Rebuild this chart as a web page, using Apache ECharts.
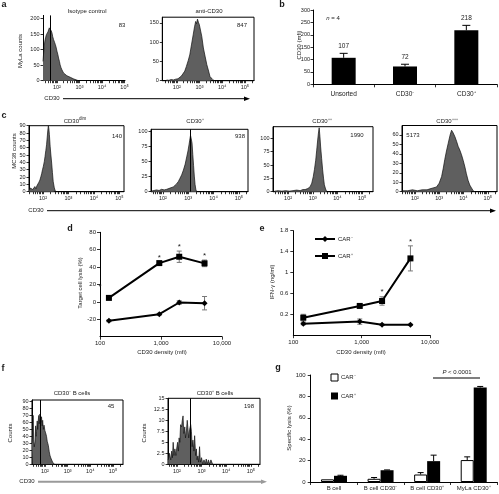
<!DOCTYPE html>
<html><head><meta charset="utf-8">
<script src="https://cdn.jsdelivr.net/npm/echarts@6/dist/echarts.min.js"></script>
<style>html,body{margin:0;padding:0;background:#fff}#c{width:499px;height:494px}</style>
</head><body><div id="c"></div>
<script>
const FONT = "'Liberation Sans', Arial, Helvetica, sans-serif";
const TXT = '#1a1a1a';

// ---------- DATA ----------
// Panel a : MyLa histograms, x in decades (log10 CD30), y counts
const aIsotypeHist = [[1.38,62],[1.42,100],[1.46,127],[1.50,140],[1.53,148],[1.56,153],[1.60,157],[1.63,160],[1.66,170],[1.70,175],[1.72,168],[1.75,160],[1.78,153],[1.81,142],[1.85,132],[1.89,124],[1.93,116],[1.97,105],[2.00,95],[2.04,84],[2.07,73],[2.11,62],[2.14,51],[2.18,42],[2.22,35],[2.26,29],[2.29,25],[2.36,20],[2.44,16],[2.52,13],[2.59,11],[2.66,8],[2.73,6],[2.80,4],[2.88,2],[2.95,0]];
const aAntiHist = [[1.55,2],[1.65,1],[1.75,3],[1.85,2],[1.95,4],[2.05,5],[2.12,8],[2.20,12],[2.28,16],[2.35,25],[2.42,37],[2.50,52],[2.57,67],[2.65,95],[2.72,119],[2.78,140],[2.83,154],[2.87,148],[2.91,160],[2.95,152],[2.99,146],[3.03,141],[3.10,115],[3.17,85],[3.25,62],[3.32,42],[3.40,25],[3.46,11],[3.52,6],[3.58,3],[3.65,0]];
const aIsotypeGate = 1.72;
const aTitles = ['Isotype control', 'anti-CD30'];
const aMfi = ['83', '847'];
const aIsoYTicks = [0, 50, 100, 150, 200];
const aAntiYTicks = [0, 50, 100, 150];

// Panel b
const bCategories = ['Unsorted', 'CD30⁻', 'CD30⁺'];
const bValues = [107, 72, 218];
const bErrors = [18, 9, 20];
const bLabels = ['107', '72', '218'];

// Panel c : MC38 histograms
const cDimHist = [[1.46,2],[1.50,5],[1.53,3],[1.56,6],[1.60,3],[1.64,5],[1.68,7],[1.72,4],[1.76,8],[1.80,9],[1.84,13],[1.88,16],[1.92,21],[1.95,25],[1.98,30],[2.01,34],[2.05,41],[2.08,48],[2.11,56],[2.14,64],[2.17,76],[2.19,84],[2.21,90],[2.23,86],[2.25,78],[2.28,62],[2.31,50],[2.34,39],[2.37,26],[2.40,14],[2.44,6],[2.48,1],[2.52,0]];
const cPlusHist = [[1.55,1],[1.65,2],[1.75,3],[1.85,2],[1.95,4],[2.05,3],[2.15,4],[2.22,5],[2.28,6],[2.35,7],[2.41,8],[2.48,10],[2.54,13],[2.61,17],[2.67,22],[2.74,28],[2.81,36],[2.88,46],[2.94,58],[2.99,68],[3.03,78],[3.06,86],[3.09,94],[3.12,88],[3.15,81],[3.18,62],[3.21,44],[3.24,26],[3.27,12],[3.30,4],[3.33,0]];
const cPlusPlusHist = [[1.45,1],[1.60,2],[1.75,1],[1.90,2],[2.05,1],[2.20,2],[2.35,3],[2.49,2],[2.60,4],[2.69,4],[2.80,6],[2.89,9],[2.96,16],[3.02,28],[3.07,42],[3.12,59],[3.16,78],[3.20,97],[3.23,110],[3.26,120],[3.29,104],[3.32,84],[3.36,62],[3.40,41],[3.44,24],[3.47,13],[3.52,5],[3.57,0]];
const cTriplePlusHist = [[1.50,1],[1.70,1],[1.90,2],[2.10,1],[2.30,2],[2.50,2],[2.62,3],[2.75,4],[2.89,5],[3.00,9],[3.10,16],[3.17,25],[3.23,34],[3.30,43],[3.37,51],[3.45,60],[3.51,65],[3.58,62],[3.65,58],[3.72,53],[3.78,48],[3.85,44],[3.92,39],[3.99,33],[4.06,26],[4.12,19],[4.19,12],[4.26,7],[4.33,4],[4.40,1],[4.47,0]];
const cPlusGate = 3.07;
const cTitles = ['dim', '⁺', '⁺⁺', '⁺⁺⁺'];
const cMfi = ['140', '938', '1990', '5173'];
const cDimYTicks = [0,10,20,30,40,50,60,70,80,90];
const cPlusYTicks = [0,25,50,75,100];
const cTripleYTicks = [0,10,20,30,40,50,60];

// Panel d : target cell lysis
const dDensity = [140, 938, 1990, 5173];
const dCarPos = [4.6, 44.6, 51.9, 44.3];
const dCarPosErr = [1, 1, 6.5, 3.8];
const dCarNeg = [-21.8, -14.1, -0.7, -1.5];
const dCarNegErr = [1, 1, 2, 7.7];
const dSignif = ['', '*', '*', '*'];

// Panel e : IFN-gamma
const eDensity = [140, 938, 1990, 5173];
const eCarNeg = [0.02, 0.06, 0.0, 0.0];
const eCarNegErr = [0.02, 0.05, 0.01, 0.01];
const eCarPos = [0.135, 0.36, 0.455, 1.27];
const eCarPosErr = [0.065, 0.02, 0.08, 0.24];
const eSignif = ['', '', '*', '*'];
const eYTicks = [0.2, 0.6, 1, 1.4, 1.8];

// Panel f : B cell histograms
const fNegHist = [[1.43,30],[1.46,45],[1.48,70],[1.50,35],[1.53,25],[1.56,32],[1.59,55],[1.61,40],[1.63,47],[1.66,62],[1.68,50],[1.70,61],[1.73,70],[1.75,58],[1.78,72],[1.80,66],[1.83,60],[1.85,68],[1.88,55],[1.90,63],[1.93,50],[1.96,56],[2.00,48],[2.03,45],[2.07,40],[2.10,33],[2.15,27],[2.19,18],[2.22,13],[2.26,9],[2.30,6],[2.34,3],[2.37,2],[2.42,0]];
const fPosHist = [[1.65,1],[1.70,2.5],[1.75,1],[1.79,3],[1.82,1.5],[1.85,5],[1.88,2],[1.92,3.5],[1.96,2],[1.99,3.5],[2.03,5],[2.06,3],[2.09,6],[2.12,5],[2.15,9],[2.19,8.5],[2.22,10],[2.25,11],[2.28,7],[2.32,8.5],[2.35,6],[2.39,7.8],[2.42,10],[2.45,9.7],[2.48,6],[2.52,8],[2.56,9],[2.59,7.5],[2.62,4],[2.65,5.5],[2.69,3],[2.72,6.5],[2.76,2],[2.79,3.5],[2.82,1],[2.85,1.9],[2.88,0.5],[2.92,4],[2.95,0.5],[3.00,1.5],[3.05,0],[3.10,1],[3.15,0],[3.19,1.2],[3.23,0],[3.28,1],[3.32,0],[3.38,1],[3.45,0]];
const fNegGate = 1.78;
const fPosGate = 2.56;
const fTitles = ['CD30⁻ B cells', 'CD30⁺ B cells'];
const fMfi = ['45', '198'];
const fNegYTicks = [0,10,20,30,40,50,60,70,80,90];
const fPosYTicks = [0,2.5,5,7.5,10,12.5,15];

// Panel g : specific lysis
const gCategories = ['B cell', 'B cell CD30⁻', 'B cell CD30⁺', 'MyLa CD30⁺'];
const gCarNeg = [2.5, 3, 7, 20.5];
const gCarNegErr = [0, 1.2, 1.8, 3];
const gCarPos = [5.8, 11, 19.5, 88.3];
const gCarPosErr = [0.5, 0.3, 5.6, 1];

const decadeLabels = [2, 3, 4, 5];
const SUP = {2: '²', 3: '³', 4: '⁴', 5: '⁵'};

// ---------- HELPERS ----------
function logTickPositions(min, max) {
  const out = [];
  for (let d = 1; d <= 5; d++) for (let k = 1; k <= 9; k++) {
    const v = d + Math.log10(k);
    if (v >= min - 1e-9 && v <= max + 1e-9) out.push(v);
  }
  return out;
}
const axLine = {show: true, onZero: false, lineStyle: {color: '#000', width: 1}};
const tickStyle = {color: '#000', width: 0.8};
function lbl(extra) { return Object.assign({fontSize: 5.5, color: TXT, fontFamily: FONT}, extra || {}); }

function grid(left, top, width, height, box) {
  return {left, top, width, height, containLabel: false, outerBoundsMode: 'none',
    show: !!box, borderColor: '#000', borderWidth: 1, backgroundColor: 'transparent'};
}
function histX(gi, min, max) {
  return {type: 'value', gridIndex: gi, min, max, axisLine: axLine, splitLine: {show: false},
    axisTick: {show: true, length: 2.5, customValues: logTickPositions(min, max), lineStyle: tickStyle},
    axisLabel: lbl({customValues: decadeLabels.filter(v => v >= min && v <= max),
      formatter: v => '10' + SUP[Math.round(v)], margin: 4})};
}
function histY(gi, max, ticks) {
  return {type: 'value', gridIndex: gi, min: 0, max, axisLine: axLine, splitLine: {show: false},
    axisTick: {show: true, length: 2.5, customValues: ticks, lineStyle: tickStyle},
    axisLabel: lbl({customValues: ticks, margin: 3.5})};
}
function hist(gi, data, gate) {
  const s = {type: 'line', xAxisIndex: gi, yAxisIndex: gi, data, symbol: 'none', showSymbol: false,
    lineStyle: {color: '#111', width: 0.7}, areaStyle: {color: '#5f5f5f', opacity: 1}, z: 2, silent: true};
  if (gate != null) s.markLine = {silent: true, symbol: 'none', label: {show: false}, animation: false,
    lineStyle: {color: '#000', width: 1, type: 'solid'}, data: [{xAxis: gate}]};
  return s;
}
function errorBars(cfg) {
  return {
    type: 'custom', xAxisIndex: cfg.axis, yAxisIndex: cfg.axis, silent: true, z: cfg.z || 2,
    data: cfg.xs.map((x, i) => [x, cfg.vals[i], cfg.errs[i]]),
    renderItem: function (params, api) {
      const i = params.dataIndex;
      const x = api.value(0), v = api.value(1), e = api.value(2);
      const pTop = api.coord([x, v + e]);
      const pBot = api.coord([x, cfg.both ? v - e : v]);
      const cx = pTop[0] + (cfg.dx || 0);
      const st = {stroke: cfg.color, lineWidth: 1};
      const ch = [];
      if (e > 0) {
        ch.push({type: 'line', shape: {x1: cx, y1: pTop[1], x2: cx, y2: pBot[1]}, style: st});
        ch.push({type: 'line', shape: {x1: cx - cfg.cap, y1: pTop[1], x2: cx + cfg.cap, y2: pTop[1]}, style: st});
        if (cfg.both) ch.push({type: 'line', shape: {x1: cx - cfg.cap, y1: pBot[1], x2: cx + cfg.cap, y2: pBot[1]}, style: st});
      }
      const mark = cfg.marks ? cfg.marks[i] : '';
      if (mark) ch.push({type: 'text', x: cx, y: pTop[1] - cfg.markGap,
        style: {text: mark, fill: TXT, font: cfg.markFont, align: 'center', verticalAlign: 'middle'}});
      return {type: 'group', children: ch};
    }
  };
}
function txt(x, y, text, o) {
  o = o || {};
  const size = o.size || 6;
  return {type: 'text', x, y, rotation: o.rot || 0, silent: true, z: 50,
    style: {text, fill: o.color || TXT, font: (o.weight || 'normal') + ' ' + size + 'px ' + FONT,
      align: o.align || 'center', verticalAlign: 'middle', textAlign: o.align || 'center', textVerticalAlign: 'middle'}};
}
function hline(x1, y, x2, color, w) {
  return {type: 'line', silent: true, shape: {x1, y1: y, x2, y2: y}, style: {stroke: color || '#000', lineWidth: w || 1}};
}
function arrowHead(x, y, color) {
  return {type: 'polygon', silent: true, shape: {points: [[x - 6, y - 2.2], [x, y], [x - 6, y + 2.2]]}, style: {fill: color || '#000'}};
}

// ---------- LAYOUT ----------
const grids = [
  grid(43, 15.4, 82, 65.3, false),      // 0 a1
  grid(162.3, 17.2, 91.7, 63.5, true),  // 1 a2
  grid(313, 10, 184, 74.3, false),      // 2 b
  grid(29, 125.7, 95, 66, true),        // 3 c1
  grid(151, 129.3, 97, 62.4, true),     // 4 c2
  grid(273, 126.7, 100, 65, true),      // 5 c3
  grid(402, 125.5, 95, 66.2, true),     // 6 c4
  grid(100, 232.3, 122, 104.4, false),  // 7 d
  grid(293.3, 230.7, 136.7, 104.5, false), // 8 e
  grid(32, 400, 91, 64.3, true),        // 9 f1
  grid(168, 398.3, 92, 66, true),       // 10 f2
  grid(310.7, 375, 186.3, 107, false)   // 11 g
];

const catTick = {show: true, length: 3, lineStyle: tickStyle};
const xAxes = [
  histX(0, 1.38, 5.02),
  histX(1, 1.36, 5.4),
  {type: 'category', gridIndex: 2, data: bCategories, axisLine: axLine, axisTick: catTick,
    axisLabel: lbl({fontSize: 6.5, margin: 6, interval: 0})},
  histX(3, 1.45, 5.18),
  histX(4, 1.53, 5.36),
  histX(5, 1.39, 5.44),
  histX(6, 1.47, 5.38),
  {type: 'log', logBase: 10, gridIndex: 7, min: 100, max: 10000, axisLine: axLine, splitLine: {show: false},
    axisTick: {show: true, length: 3, lineStyle: tickStyle},
    axisLabel: lbl({fontSize: 6, margin: 4, formatter: v => Number(v).toLocaleString('en-US')})},
  {type: 'log', logBase: 10, gridIndex: 8, min: 100, max: 10000, axisLine: axLine, splitLine: {show: false},
    axisTick: {show: true, length: 3, lineStyle: tickStyle},
    axisLabel: lbl({fontSize: 6, margin: 4, formatter: v => Number(v).toLocaleString('en-US')})},
  histX(9, 1.43, 5.44),
  histX(10, 1.64, 5.37),
  {type: 'category', gridIndex: 11, data: gCategories, axisLine: axLine, axisTick: catTick,
    axisLabel: lbl({fontSize: 6, margin: 3, interval: 0})}
];
const yAxes = [
  histY(0, 210, aIsoYTicks),
  histY(1, 165, aAntiYTicks),
  {type: 'value', gridIndex: 2, min: 0, max: 300, interval: 50, axisLine: axLine, splitLine: {show: false},
    axisTick: {show: true, length: 2.5, lineStyle: tickStyle}, axisLabel: lbl({fontSize: 5.5, margin: 3})},
  histY(3, 90, cDimYTicks),
  histY(4, 104, cPlusYTicks),
  histY(5, 122, cPlusYTicks),
  histY(6, 70, cTripleYTicks),
  {type: 'value', gridIndex: 7, min: -40, max: 80, interval: 20, axisLine: axLine, splitLine: {show: false},
    axisTick: {show: true, length: 3, lineStyle: tickStyle}, axisLabel: lbl({fontSize: 6, margin: 4, showMinLabel: false})},
  {type: 'value', gridIndex: 8, min: -0.2, max: 1.8, axisLine: axLine, splitLine: {show: false},
    axisTick: {show: true, length: 3, customValues: eYTicks, lineStyle: tickStyle},
    axisLabel: lbl({fontSize: 6, margin: 5, customValues: eYTicks})},
  histY(9, 92, fNegYTicks),
  histY(10, 15, fPosYTicks),
  {type: 'value', gridIndex: 11, min: 0, max: 100, interval: 20, axisLine: axLine, splitLine: {show: false},
    axisTick: {show: true, length: 3, lineStyle: tickStyle}, axisLabel: lbl({fontSize: 6, margin: 5})}
];

const series = [
  hist(0, aIsotypeHist, aIsotypeGate),
  hist(1, aAntiHist, null),
  {type: 'bar', xAxisIndex: 2, yAxisIndex: 2, data: bValues, barWidth: 24, itemStyle: {color: '#000'}, z: 2},
  errorBars({axis: 2, xs: bCategories, vals: bValues, errs: bErrors, both: false, color: '#000', cap: 4,
    marks: bLabels, markGap: 7, markFont: '6.5px ' + FONT, z: 3}),
  hist(3, cDimHist, null),
  hist(4, cPlusHist, cPlusGate),
  hist(5, cPlusPlusHist, null),
  hist(6, cTriplePlusHist, null),
  errorBars({axis: 7, xs: dDensity, vals: dCarPos, errs: dCarPosErr, both: true, color: '#777', cap: 2.5,
    marks: dSignif, markGap: 4.5, markFont: '8px ' + FONT, z: 1}),
  errorBars({axis: 7, xs: dDensity, vals: dCarNeg, errs: dCarNegErr, both: true, color: '#777', cap: 2.5, z: 1}),
  {type: 'line', xAxisIndex: 7, yAxisIndex: 7, data: dDensity.map((x, i) => [x, dCarPos[i]]),
    symbol: 'rect', symbolSize: 6, lineStyle: {color: '#000', width: 2}, itemStyle: {color: '#000'}, z: 3},
  {type: 'line', xAxisIndex: 7, yAxisIndex: 7, data: dDensity.map((x, i) => [x, dCarNeg[i]]),
    symbol: 'diamond', symbolSize: 6, lineStyle: {color: '#000', width: 2}, itemStyle: {color: '#000'}, z: 3},
  errorBars({axis: 8, xs: eDensity, vals: eCarPos, errs: eCarPosErr, both: true, color: '#777', cap: 2.5,
    marks: eSignif, markGap: 4.5, markFont: '8px ' + FONT, z: 1}),
  errorBars({axis: 8, xs: eDensity, vals: eCarNeg, errs: eCarNegErr, both: true, color: '#777', cap: 2.5, z: 1}),
  {type: 'line', xAxisIndex: 8, yAxisIndex: 8, data: eDensity.map((x, i) => [x, eCarNeg[i]]),
    symbol: 'diamond', symbolSize: 6, lineStyle: {color: '#000', width: 2}, itemStyle: {color: '#000'}, z: 3},
  {type: 'line', xAxisIndex: 8, yAxisIndex: 8, data: eDensity.map((x, i) => [x, eCarPos[i]]),
    symbol: 'rect', symbolSize: 6, lineStyle: {color: '#000', width: 2}, itemStyle: {color: '#000'}, z: 3},
  hist(9, fNegHist, fNegGate),
  hist(10, fPosHist, fPosGate),
  {type: 'bar', xAxisIndex: 11, yAxisIndex: 11, data: gCarNeg, barWidth: 13, barGap: '0%',
    itemStyle: {color: '#fff', borderColor: '#000', borderWidth: 1}, z: 2},
  {type: 'bar', xAxisIndex: 11, yAxisIndex: 11, data: gCarPos, barWidth: 13, barGap: '0%',
    itemStyle: {color: '#000'}, z: 2},
  errorBars({axis: 11, xs: gCategories, vals: gCarNeg, errs: gCarNegErr, both: false, color: '#000', cap: 3, dx: -6.5, z: 1}),
  errorBars({axis: 11, xs: gCategories, vals: gCarPos, errs: gCarPosErr, both: false, color: '#000', cap: 3, dx: 6.5, z: 1})
];

const ital = {i: {fontStyle: 'italic', fontSize: 6, fontFamily: FONT, fill: TXT}, n: {fontSize: 6, fontFamily: FONT, fill: TXT}};
const supRich = {a: {fontSize: 6, fontFamily: FONT, fill: TXT}, s: {fontSize: 4.5, fontFamily: FONT, fill: TXT, verticalAlign: 'top', padding: [0, 0, 4, 0]}};

const graphics = [
  // panel letters
  txt(4, 5, 'a', {size: 9, weight: 'bold'}),
  txt(282, 5, 'b', {size: 9, weight: 'bold'}),
  txt(4, 116, 'c', {size: 9, weight: 'bold'}),
  txt(70, 229, 'd', {size: 9, weight: 'bold'}),
  txt(262, 229, 'e', {size: 9, weight: 'bold'}),
  txt(3, 369, 'f', {size: 9, weight: 'bold'}),
  txt(278, 368, 'g', {size: 9, weight: 'bold'}),
  // panel a
  txt(87, 11, aTitles[0]), txt(209, 11, aTitles[1]),
  txt(122, 25, aMfi[0]), txt(242, 25, aMfi[1]),
  txt(20, 51, 'MyLa counts', {rot: Math.PI / 2}),
  txt(52, 98.7, 'CD30'),
  hline(63, 98.7, 245), arrowHead(250, 98.7),
  // panel b
  txt(299, 45, 'CD30 (mfi)', {rot: Math.PI / 2}),
  {type: 'text', x: 333, y: 18, silent: true, z: 50, style: {text: '{i|n}{n| = 4}', rich: ital, align: 'center', verticalAlign: 'middle'}},
  // panel c
  {type: 'text', x: 75, y: 121, silent: true, z: 50, style: {text: '{a|CD30}{s|' + cTitles[0] + '}', rich: supRich, align: 'center', verticalAlign: 'middle'}},
  txt(195, 121, 'CD30' + cTitles[1]), txt(322, 121, 'CD30' + cTitles[2]), txt(447, 121, 'CD30' + cTitles[3]),
  txt(117, 136, cMfi[0]), txt(240, 136, cMfi[1]), txt(357, 135, cMfi[2]), txt(413, 135, cMfi[3]),
  txt(14, 151, 'MC38 counts', {rot: Math.PI / 2}),
  txt(36, 210.7, 'CD30'),
  hline(47, 210.7, 491), arrowHead(496, 210.7),
  // panel d
  txt(80, 283, 'Target cell lysis (%)', {rot: Math.PI / 2}),
  txt(162, 352, 'CD30 density (mfi)'),
  txt(100, 287, '*', {size: 8}),
  // panel e
  txt(272, 282, 'IFN-γ (ng/ml)', {rot: Math.PI / 2}),
  txt(361, 352, 'CD30 density (mfi)'),
  hline(315, 239, 335, '#000', 2),
  {type: 'polygon', silent: true, shape: {points: [[325, 236], [328, 239], [325, 242], [322, 239]]}, style: {fill: '#000'}},
  txt(338, 239, 'CAR⁻', {align: 'left'}),
  hline(315, 256, 335, '#000', 2),
  {type: 'rect', silent: true, shape: {x: 322, y: 253, width: 6, height: 6}, style: {fill: '#000'}},
  txt(338, 256, 'CAR⁺', {align: 'left'}),
  // panel f
  txt(72, 393.3, fTitles[0]), txt(215, 393.3, fTitles[1]),
  txt(111, 406, fMfi[0]), txt(249, 406, fMfi[1]),
  txt(10, 433, 'Counts', {rot: Math.PI / 2}),
  txt(144, 433, 'Counts', {rot: Math.PI / 2}),
  txt(27, 481.7, 'CD30'),
  hline(38, 481.7, 262, '#9a9a9a', 2), arrowHead(267, 481.7, '#9a9a9a'),
  // panel g
  txt(289, 428, 'Specific lysis (%)', {rot: Math.PI / 2}),
  {type: 'rect', silent: true, shape: {x: 331, y: 374, width: 7, height: 7}, style: {fill: '#fff', stroke: '#000', lineWidth: 1}},
  txt(341, 377.5, 'CAR⁻', {align: 'left'}),
  {type: 'rect', silent: true, shape: {x: 331, y: 392.5, width: 7, height: 7}, style: {fill: '#000'}},
  txt(341, 396, 'CAR⁺', {align: 'left'}),
  hline(433, 378, 480, '#000', 1.2),
  {type: 'text', x: 457, y: 372, silent: true, z: 50, style: {text: '{i|P}{n| < 0.0001}', rich: ital, align: 'center', verticalAlign: 'middle'}}
];

const chart = echarts.init(document.getElementById('c'), null, {renderer: 'canvas'});
chart.setOption({
  animation: false,
  backgroundColor: '#fff',
  textStyle: {fontFamily: FONT},
  grid: grids,
  xAxis: xAxes,
  yAxis: yAxes,
  series: series,
  graphic: {elements: graphics}
});
</script></body></html>
